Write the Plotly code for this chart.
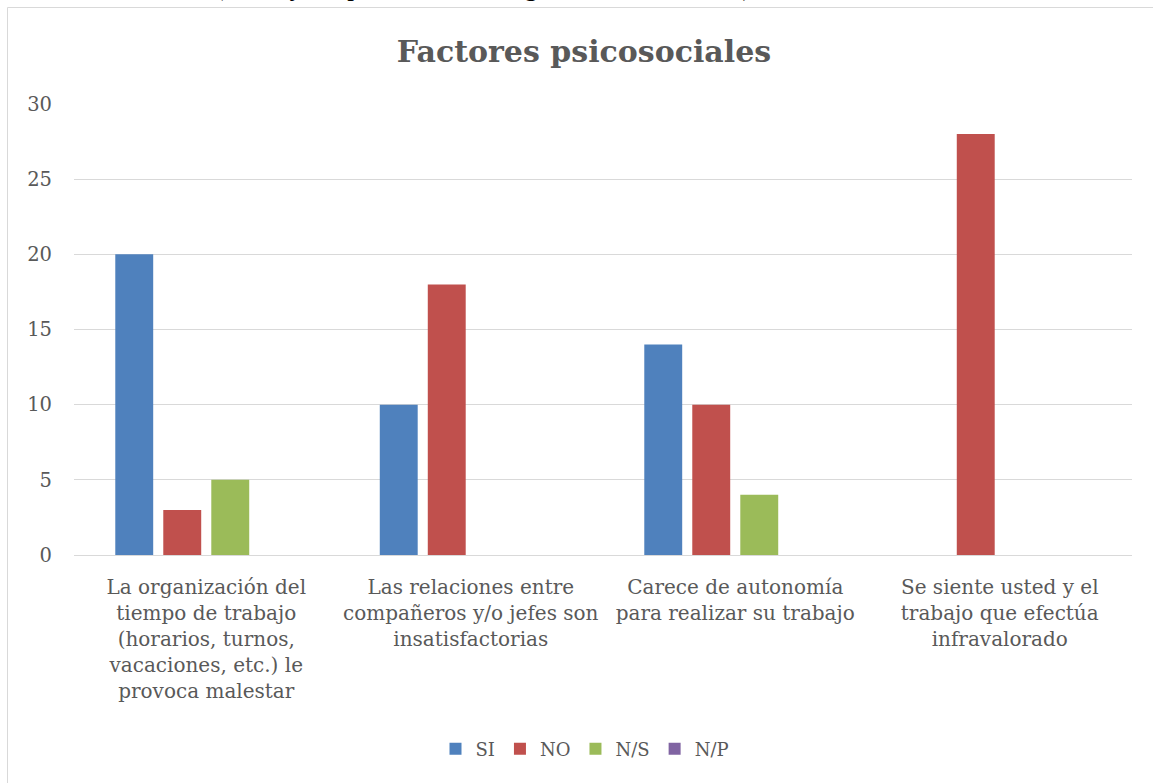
import plotly.graph_objects as go

categories = [
    "La organización del<br>tiempo de trabajo<br>(horarios, turnos,<br>vacaciones, etc.) le<br>provoca malestar",
    "Las relaciones entre<br>compañeros y/o jefes son<br>insatisfactorias",
    "Carece de autonomía<br>para realizar su trabajo",
    "Se siente usted y el<br>trabajo que efectúa<br>infravalorado",
]
series_names = ["SI", "NO", "N/S", "N/P"]
si_values = [20, 10, 14, 0]
no_values = [3, 18, 10, 28]
ns_values = [5, 0, 4, 0]
np_values = [0, 0, 0, 0]
colors = ["#4F81BD", "#C0504D", "#9BBB59", "#8064A2"]
y_ticks = [0, 5, 10, 15, 20, 25, 30]

W, H = 1153, 783
L, R, T, B = 74, 21, 104, 228
pw, ph = W - L - R, H - T - B

font_family = "DejaVu Serif"
grey = "#595959"

fig = go.Figure()
for name, vals, col in zip(series_names, [si_values, no_values, ns_values, np_values], colors):
    fig.add_trace(go.Bar(name=name, x=categories, y=vals, marker=dict(color=col, line=dict(width=0))))

def px_to_paper_x(px):
    return (px - L) / pw

def px_to_paper_y(py):
    return (H - B - py) / ph

fig.update_layout(
    width=W, height=H,
    margin=dict(l=L, r=R, t=T, b=B, autoexpand=False),
    paper_bgcolor="white", plot_bgcolor="white",
    barmode="group", bargap=0.274, bargroupgap=0.21,
    title=dict(text="<b>Factores psicosociales</b>", x=584 / W, xref="container", xanchor="center",
               y=1 - 51 / H, yanchor="middle",
               font=dict(family=font_family, size=30, color=grey)),
    font=dict(family=font_family, color=grey),
    showlegend=True,
    legend=dict(orientation="h", x=px_to_paper_x(585), xanchor="center", xref="paper",
                y=px_to_paper_y(749), yanchor="middle", yref="paper",
                font=dict(family=font_family, size=18, color=grey),
                itemwidth=30, traceorder="normal"),
    xaxis=dict(showgrid=False, showline=True, linecolor="#d9d9d9", linewidth=1,
               ticks="", tickfont=dict(family=font_family, size=20, color=grey),
               tickangle=0, automargin=False, ticklabelstandoff=14),
    yaxis=dict(range=[0, 30], tickvals=y_ticks, showgrid=True, gridcolor="#d9d9d9",
               gridwidth=1, zeroline=False, showline=False, ticks="",
               tickfont=dict(family=font_family, size=19.5, color=grey), automargin=False,
               ticklabelstandoff=21),
    shapes=[dict(type="rect", xref="paper", yref="paper",
                 x0=px_to_paper_x(7.5), x1=px_to_paper_x(1170),
                 y0=px_to_paper_y(800), y1=px_to_paper_y(7.5),
                 line=dict(color="#d9d9d9", width=1), fillcolor="rgba(0,0,0,0)", layer="below")],
    annotations=[dict(text="Fuente: CSIC (Consejo Superior de Investigaciones Científicas)",
                      xref="paper", yref="paper", x=px_to_paper_x(58), y=px_to_paper_y(3),
                      xanchor="left", yanchor="bottom", showarrow=False,
                      font=dict(family="Liberation Serif", size=27, color="black"))],
)

fig.write_html("out.html", config={"displayModeBar": False},
               post_script="document.body.style.margin='0';document.body.style.overflow='hidden';")
